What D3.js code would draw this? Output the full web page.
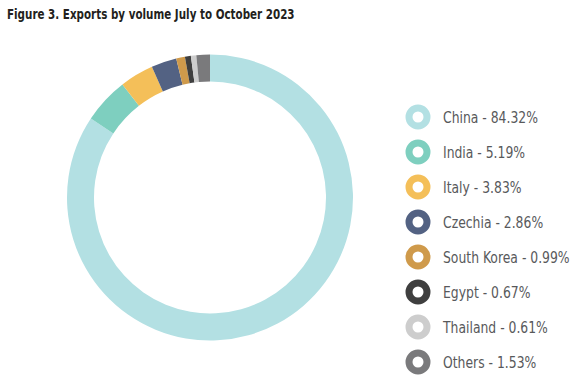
<!DOCTYPE html>
<html><head><meta charset="utf-8">
<script src="https://cdn.jsdelivr.net/npm/d3@7"></script>
<style>html,body{margin:0;padding:0;background:#fff;}svg{display:block;}</style>
</head><body>
<svg id="chart" width="578" height="380"></svg>
<script>
const categories = ["China","India","Italy","Czechia","South Korea","Egypt","Thailand","Others"];
const shares = [84.32, 5.19, 3.83, 2.86, 0.99, 0.67, 0.61, 1.53];
const colors = ["#b3e0e3","#7ecfbf","#f4bf59","#536283","#cf9a4b","#3f3f3f","#cdcdcd","#7a7a7c"];
const titleText = "Figure 3. Exports by volume July to October 2023";

const svg = d3.select("#chart");
const font = "'DejaVu Sans Condensed','DejaVu Sans',sans-serif";

const tg = svg.append("g");
const title = tg.append("text").attr("x", 0).attr("y", 0)
  .attr("font-family", font).attr("font-weight", "bold").attr("font-size", 13.5)
  .attr("fill", "#231f20").text(titleText);
const tk = 288 / title.node().getComputedTextLength();
tg.attr("transform", `translate(7,19) scale(${tk},1)`);

const data = categories.map((c, i) => ({name: c, value: shares[i], color: colors[i]}));
const pie = d3.pie().sort(null).value(d => d.value);
const arc = d3.arc().innerRadius(116).outerRadius(143);

svg.append("g").attr("transform", "translate(210,197.5)")
  .selectAll("path").data(pie(data)).join("path")
  .attr("d", arc).attr("fill", d => d.data.color);

const y = d3.scalePoint().domain(categories).range([117, 362]);
const lg = svg.append("g");
const rows = lg.selectAll("g").data(data).join("g")
  .attr("transform", d => `translate(418,${y(d.name)})`);
rows.append("circle").attr("r", 9).attr("fill", "none")
  .attr("stroke", d => d.color).attr("stroke-width", 7);
const labels = rows.append("g");
const texts = labels.append("text").attr("x", 0).attr("y", 0)
  .attr("font-family", font).attr("font-size", 15.5).attr("fill", "#58595b")
  .text(d => `${d.name} - ${d.value.toFixed(2)}%`);
const k = 95 / texts.nodes()[0].getComputedTextLength();
labels.attr("transform", `translate(25,5.5) scale(${k},1)`);
</script>
</body></html>
